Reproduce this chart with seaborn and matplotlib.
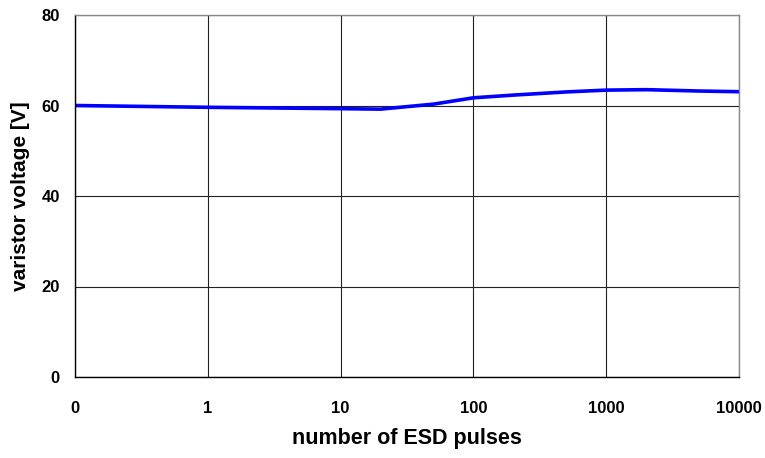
import numpy as np
import pandas as pd
import matplotlib
matplotlib.use("Agg")
import matplotlib.pyplot as plt
import seaborn as sns

pulses = [0, 1, 10, 20, 50, 100, 200, 500, 1000, 2000, 5000, 10000]
voltage = [60.0, 59.6, 59.3, 59.2, 60.3, 61.7, 62.3, 63.0, 63.4, 63.5, 63.2, 63.05]
tick_labels = ["0", "1", "10", "100", "1000", "10000"]

sns.set_style("white")
plt.rcParams['font.family'] = ['Liberation Sans', 'DejaVu Sans']
plt.rcParams['font.weight'] = 'bold'
plt.rcParams['text.color'] = 'black'
plt.rcParams['axes.labelcolor'] = 'black'
plt.rcParams['xtick.color'] = 'black'
plt.rcParams['ytick.color'] = 'black'

df = pd.DataFrame({"pulses": pulses, "voltage": voltage})
# axis position: 0 pulses at position 0, otherwise log10(n)+1
df["pos"] = [0.0 if p == 0 else np.log10(p) + 1 for p in df["pulses"]]

fig = plt.figure(figsize=(7.65, 4.58), dpi=100)
ax = fig.add_axes([75/765, 1 - 377/458, (739-75)/765, (377-15)/458])

sns.lineplot(data=df, x="pos", y="voltage", ax=ax, color="#0000ff", linewidth=2.6, sort=False)

ax.set_xlim(0, 5)
ax.set_ylim(0, 80)
ax.set_xticks(range(len(tick_labels)))
ax.set_xticklabels(tick_labels)
ax.set_yticks([0, 20, 40, 60, 80])
ax.grid(True, color="#222222", linewidth=0.8)
ax.set_axisbelow(True)

for s in ["left", "bottom"]:
    ax.spines[s].set_color("black")
    ax.spines[s].set_linewidth(1.0)
for s in ["top", "right"]:
    ax.spines[s].set_color("#888888")
    ax.spines[s].set_linewidth(1.0)

ax.tick_params(axis="both", direction="out", length=5, width=1, color="black",
               labelsize=12, labelcolor="black")
ax.tick_params(axis="x", pad=12)
ax.tick_params(axis="y", pad=6)
for lbl in ax.get_xticklabels() + ax.get_yticklabels():
    lbl.set_fontweight("bold")

ax.set_xlabel("number of ESD pulses", fontsize=15.5, fontweight="bold", labelpad=9, color="black")
ax.set_ylabel("varistor voltage [V]", fontsize=15, fontweight="bold", labelpad=8, color="black")

fig.savefig("out.png", dpi=100)
